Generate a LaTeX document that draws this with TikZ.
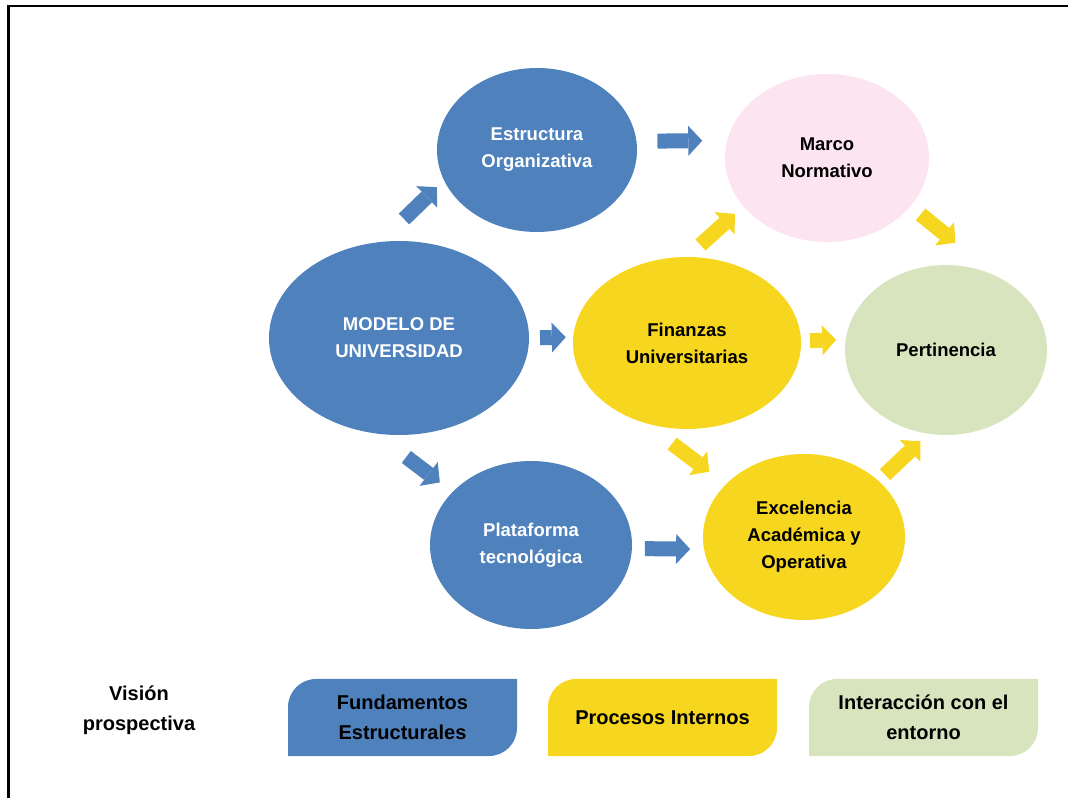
\documentclass[tikz,border=0pt]{standalone}
\usepackage{fontspec}
\setmainfont{Liberation Sans}
\usetikzlibrary{shapes.geometric,arrows.meta}
\definecolor{azul}{HTML}{4F81BD}
\definecolor{amarillo}{HTML}{F6D61F}
\definecolor{rosa}{HTML}{FCE4F0}
\definecolor{verde}{HTML}{D8E4BE}
\tikzset{
  elipse/.style={ellipse, fill=#1, inner sep=0pt, outer sep=0pt, align=center,
    font=\bfseries\fontsize{18.5}{27}\selectfont},
  flecha/.style={draw=#1, line width=15pt,
    -{Triangle[length=14pt,width=30pt,line width=0pt,fill=#1]}},
  leyenda/.style={minimum width=229pt, minimum height=77pt, inner sep=0pt, align=center,
    font=\bfseries\fontsize{20}{30}\selectfont,
    path picture={\fill[#1] ([yshift=-28pt]path picture bounding box.north west)
      arc[start angle=180,end angle=90,radius=28pt] -- (path picture bounding box.north east)
      -- ([yshift=28pt]path picture bounding box.south east)
      arc[start angle=0,end angle=-90,radius=28pt] -- (path picture bounding box.south west) -- cycle;}}
}
\begin{document}
\begin{tikzpicture}[x=1pt, y=1pt]
  \useasboundingbox (0,0) rectangle (1068,798);
  % marco
  \draw [line width=2.5pt] (8.5,0) |- (1068,792);
  % elipses
  \node [elipse=azul, text=white, minimum width=200pt, minimum height=164pt] (estructura) at (537,648) {Estructura\\Organizativa};
  \node [elipse=rosa, minimum width=204pt, minimum height=168pt] (marco) at (827,640) {Marco\\Normativo};
  \node [elipse=azul, text=white, minimum width=260pt, minimum height=194pt] (modelo) at (399,460) {MODELO DE\\UNIVERSIDAD};
  \node [elipse=amarillo, minimum width=228pt, minimum height=172pt] (finanzas) at (687,455) {Finanzas\\Universitarias};
  \node [elipse=verde, minimum width=202pt, minimum height=170pt] (pertinencia) at (946,448) {Pertinencia};
  \node [elipse=azul, text=white, minimum width=202pt, minimum height=168pt] (plataforma) at (531,253) {Plataforma\\tecnológica};
  \node [elipse=amarillo, minimum width=202pt, minimum height=166pt] (excelencia) at (804,261) {Excelencia\\Académica y\\Operativa};
  % flechas azules
  \draw [flecha=azul, shorten <=33pt, shorten >=10pt] (modelo.101) -- (estructura.198);
  \draw [flecha=azul, shorten <=21pt, shorten >=25pt] (estructura.5.2) -- (marco.170.3);
  \draw [flecha=azul, shorten <=11pt, shorten >=7.5pt] (modelo.0) -- (finanzas.177.5);
  \draw [flecha=azul, shorten <=39pt, shorten >=16pt] (modelo.-104.8) -- (plataforma.146.6);
  \draw [flecha=azul, shorten <=13pt, shorten >=14pt] (plataforma.-2.3) -- (excelencia.-173.2);
  % flechas amarillas
  \draw [flecha=amarillo, shorten <=18pt, shorten >=11.5pt] (finanzas.90.3) -- (marco.210.1);
  \draw [flecha=amarillo, shorten <=13pt, shorten >=54pt] (marco.-30.5) -- (pertinencia.55);
  \draw [flecha=amarillo, shorten <=9pt, shorten >=9.6pt] (finanzas.1) -- (pertinencia.174.9);
  \draw [flecha=amarillo, shorten <=34.5pt, shorten >=21pt] (finanzas.242.1) -- (excelencia.146.7);
  \draw [flecha=amarillo, shorten <=9pt, shorten >=11pt] (excelencia.37.8) -- (pertinencia.-102.1);
  % leyenda
  \node [align=center, font=\bfseries\fontsize{20}{30}\selectfont] (vision) at (139,88) {Visión\\prospectiva};
  \node [leyenda=azul] (fundamentos) at (402.5,80.5) {Fundamentos\\Estructurales};
  \node [leyenda=amarillo] (procesos) at (662.5,80.5) {Procesos Internos};
  \node [leyenda=verde] (interaccion) at (923.5,80.5) {Interacción con el\\entorno};
\end{tikzpicture}
\end{document}
